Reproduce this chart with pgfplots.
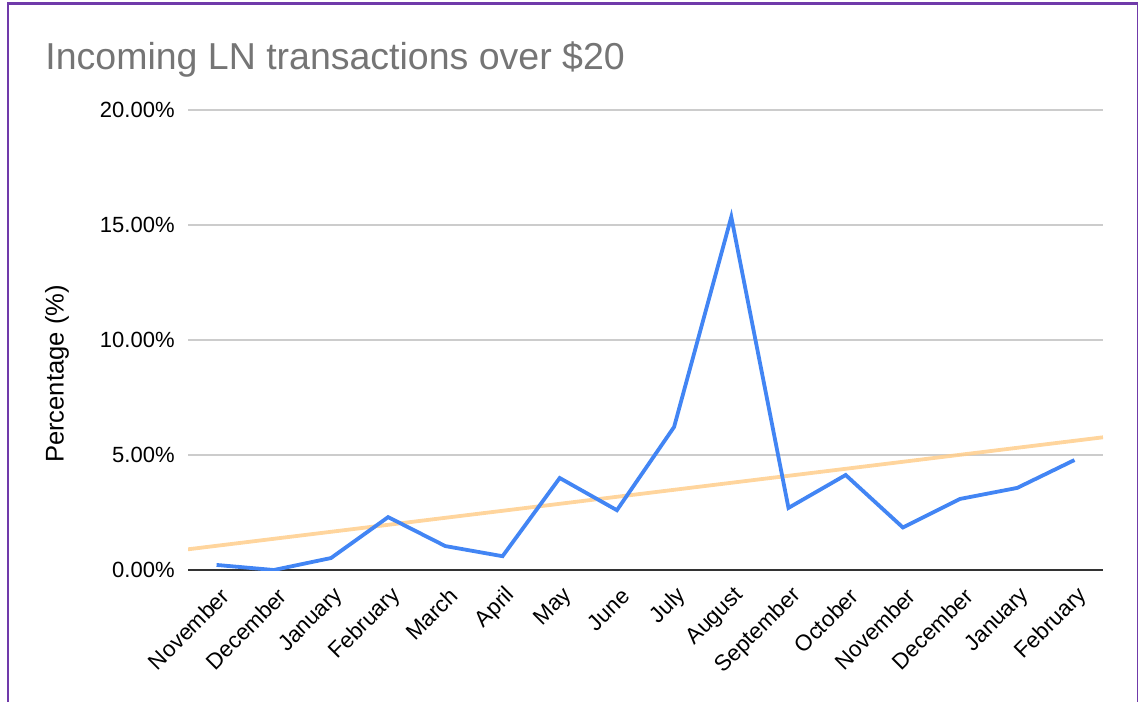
\documentclass[border=0pt]{standalone}
\usepackage{pgfplots}
\pgfplotsset{compat=1.18}
\usepackage{fontspec}
\setmainfont{Liberation Sans}
\definecolor{frame}{RGB}{112,58,170}
\definecolor{titlegray}{RGB}{117,117,117}
\definecolor{gblue}{RGB}{66,133,244}
\definecolor{trend}{RGB}{255,206,140}
\definecolor{gridc}{RGB}{204,204,204}
\definecolor{zeroc}{RGB}{51,51,51}
\begin{document}
\begin{tikzpicture}
\path[use as bounding box] (0,0) rectangle (569pt,351pt);
% frame (px -> pt: x*0.5, y_up = (702-y)*0.5)
\draw[frame, line width=1.1pt] (4pt,0pt) -- (4pt,349.2pt) -- (568.8pt,349.2pt) -- (568.8pt,0pt);
\node[anchor=base west, inner sep=0pt, text=titlegray, font=\fontsize{18.75pt}{20pt}\selectfont] at (22.5pt,316pt) {Incoming LN transactions over \$20};
\node[rotate=90, inner sep=0pt, font=\fontsize{12.8pt}{14pt}\selectfont] at (28.5pt,164pt) {Percentage (\%)};
\begin{axis}[
  at={(94pt,66pt)}, anchor=south west,
  scale only axis, width=457.5pt, height=230pt,
  xmin=-0.5, xmax=15.5, ymin=0, ymax=20,
  axis line style={draw=none},
  ytick={0,5,10,15,20},
  yticklabels={0.00\%,5.00\%,10.00\%,15.00\%,20.00\%},
  xtick={0,...,15},
  xticklabels={November,December,January,February,March,April,May,June,July,August,September,October,November,December,January,February},
  major tick length=0pt,
  ymajorgrids, grid style={gridc, line width=0.6pt},
  xmajorgrids=false,
  yticklabel style={anchor=east, inner sep=0pt, xshift=-6.5pt, font=\fontsize{11pt}{13pt}\selectfont},
  xticklabel style={anchor=east, inner sep=0pt, xshift=4.5pt, yshift=-11pt, rotate=45, font=\fontsize{11.2pt}{13pt}\selectfont},
  clip=true,
]
\addplot[trend, line width=1.9pt, opacity=0.85] coordinates {(-0.5,0.9) (15.5,5.77)};
\addplot[zeroc, line width=0.8pt, forget plot] coordinates {(-0.5,0) (15.5,0)};
\addplot[gblue, line width=1.9pt, line join=miter] coordinates {
(0,0.22) (1,0.0) (2,0.52) (3,2.3) (4,1.04) (5,0.6) (6,4.0) (7,2.6)
(8,6.22) (9,15.35) (10,2.7) (11,4.13) (12,1.85) (13,3.09) (14,3.57) (15,4.78)};
\end{axis}
\end{tikzpicture}
\end{document}
